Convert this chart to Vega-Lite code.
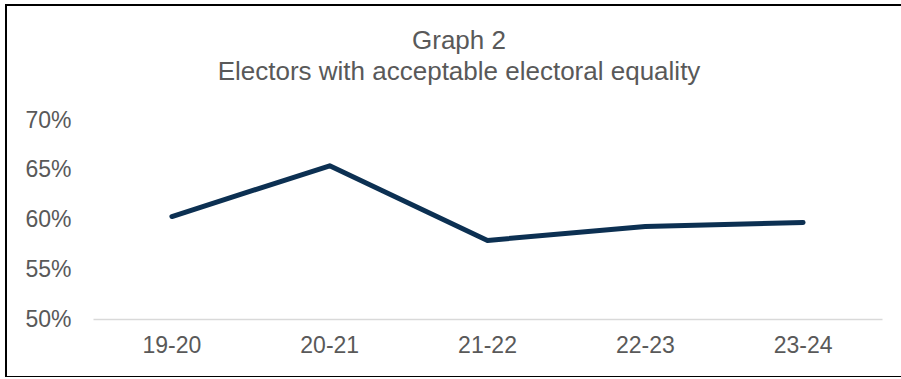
{
  "$schema": "https://vega.github.io/schema/vega-lite/v6.json",
  "autosize": {"type": "none"},
  "padding": {"left": 6, "top": 5, "right": 0, "bottom": 0},
  "width": 900,
  "height": 372,
  "background": "#ffffff",
  "title": {
    "text": ["Graph 2", "Electors with acceptable electoral equality"],
    "anchor": "middle",
    "orient": "top",
    "baseline": "alphabetic",
    "offset": -101,
    "dx": 3,
    "lineHeight": 31,
    "font": "Liberation Sans",
    "fontSize": 26,
    "fontWeight": "normal",
    "color": "#595959"
  },
  "data": {
    "values": [
      {"year": "19-20", "share": 0.603},
      {"year": "20-21", "share": 0.654},
      {"year": "21-22", "share": 0.579},
      {"year": "22-23", "share": 0.593},
      {"year": "23-24", "share": 0.597}
    ]
  },
  "mark": {
    "type": "line",
    "color": "#0c3052",
    "strokeWidth": 5,
    "strokeCap": "round",
    "strokeJoin": "round"
  },
  "encoding": {
    "x": {
      "field": "year",
      "type": "ordinal",
      "sort": null,
      "scale": {"type": "band", "range": [87, 876], "paddingInner": 0, "paddingOuter": 0},
      "axis": {
        "title": null,
        "orient": "bottom",
        "offset": -58,
        "ticks": false,
        "domain": true,
        "domainColor": "#d9d9d9",
        "domainWidth": 1.5,
        "labelAngle": 0,
        "labelPadding": 15,
        "labelFont": "Liberation Sans",
        "labelFontSize": 23,
        "labelColor": "#595959",
        "grid": false
      }
    },
    "y": {
      "field": "share",
      "type": "quantitative",
      "scale": {"domain": [0.5, 0.7], "range": [314, 115], "zero": false, "nice": false},
      "axis": {
        "title": null,
        "orient": "left",
        "offset": -65,
        "values": [0.5, 0.55, 0.6, 0.65, 0.7],
        "format": ".0%",
        "ticks": false,
        "domain": false,
        "grid": false,
        "labelPadding": 0,
        "labelFont": "Liberation Sans",
        "labelFontSize": 23,
        "labelColor": "#595959"
      }
    }
  },
  "config": {
    "view": {"stroke": "#000000", "strokeWidth": 2}
  }
}
